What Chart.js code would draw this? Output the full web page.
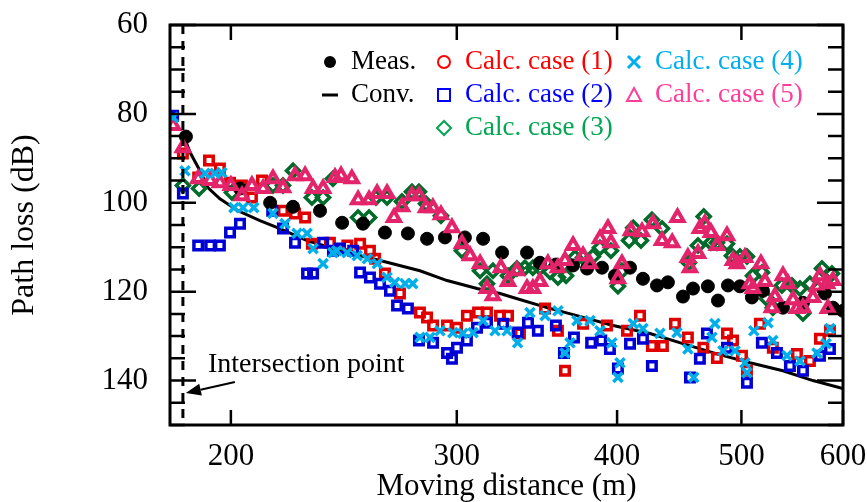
<!DOCTYPE html>
<html>
<head>
<meta charset="utf-8">
<script src="https://cdn.jsdelivr.net/npm/chart.js@4.4.1/dist/chart.umd.min.js"></script>
<style>
  body { margin: 0; background: #fff; }
  canvas { display: block; }
</style>
</head>
<body>
<canvas id="plChart" width="867" height="502"></canvas>
<script>
// ==== Data: [moving distance (m), path loss (dB)] ====
const measured = [
  [184.5, 85.1], [203.3, 96.8], [214.6, 100.0], [223.6, 100.9], [234.7, 101.8], [244.2, 104.5],
  [253.5, 104.7], [263.7, 106.7], [274.8, 106.9], [284.4, 108.1], [293.7, 107.8], [304.4, 107.8],
  [314.5, 108.1], [325.4, 111.2], [340.3, 111.2], [348.3, 113.5], [358.4, 113.9], [369.6, 114.1],
  [379.0, 114.8], [389.3, 114.6], [398.5, 116.4], [409.4, 114.6], [419.0, 117.1], [429.7, 118.6],
  [438.2, 117.9], [450.2, 121.1], [458.4, 119.3], [470.8, 118.8], [479.4, 122.0], [488.1, 118.6],
  [498.7, 118.8], [509.5, 121.3], [519.7, 119.8], [538.7, 123.6], [558.4, 122.5], [580.9, 120.4],
  [589.3, 123.6], [600, 124.3]
];
const conventional = [
  [183.5, 84.4], [185.9, 88.7], [189.2, 92.8], [191.9, 96.6], [196.1, 99.1], [202.6, 101.8],
  [210.7, 104.0], [218.4, 105.8], [229.3, 108.5], [243.3, 110.8], [261.4, 113.0], [280.8, 115.3],
  [294.8, 117.5], [311.1, 119.3], [324.2, 120.4], [331.9, 121.3], [352.7, 123.6], [372.2, 125.4],
  [397.1, 127.6], [424.3, 129.4], [450.2, 131.7], [478.5, 134.0], [507.7, 136.0], [538.7, 137.8],
  [568.5, 140.0], [600, 141.8]
];
const case1 = [
  [183.5, 88.9], [188.6, 94.3], [192.3, 90.5], [196.1, 92.3], [199.7, 95.5], [204.0, 96.1],
  [207.7, 98.8], [211.5, 95.0], [219.6, 101.8], [224.4, 102.4], [228.5, 103.3], [231.3, 109.2],
  [238.9, 109.0], [246.5, 109.6], [252.2, 109.2], [256.7, 110.8], [259.1, 112.6], [263.7, 115.9],
  [270.9, 120.4], [280.8, 124.7], [284.4, 125.8], [287.5, 127.6], [294.8, 127.6], [300.1, 128.1],
  [305.5, 125.4], [311.7, 124.7], [316.7, 124.7], [324.2, 125.4], [328.9, 125.4], [336.0, 129.4],
  [351.5, 123.8], [359.7, 128.8], [364.3, 137.8], [376.3, 127.2], [392.8, 127.6], [407.2, 128.8],
  [416.8, 125.4], [425.8, 132.2], [434.3, 132.2], [443.8, 127.2], [454.2, 130.3], [467.0, 132.6],
  [478.5, 134.9], [487.2, 129.4], [492.5, 131.0], [500.5, 134.4], [505.0, 137.8], [516.9, 127.2],
  [529.0, 132.6], [552.4, 134.0], [565.4, 135.6], [575.7, 130.6], [586.1, 128.8]
];
const case2 = [
  [180.3, 80.4], [183.5, 97.9], [188.6, 109.6], [192.7, 109.6], [196.1, 109.6], [199.7, 106.7],
  [203.3, 104.7], [215.4, 101.8], [219.6, 105.8], [224.4, 109.0], [229.3, 115.9], [231.8, 115.9],
  [236.0, 109.0], [240.2, 110.8], [243.3, 110.3], [249.1, 110.8], [252.2, 115.7], [256.7, 116.8],
  [261.4, 118.2], [266.1, 119.8], [269.5, 123.1], [274.8, 123.8], [280.3, 131.0], [287.5, 131.5],
  [294.8, 133.8], [297.4, 135.1], [300.1, 132.6], [305.5, 131.0], [311.1, 128.1], [316.7, 127.0],
  [326.0, 127.2], [334.6, 129.2], [340.9, 127.0], [347.0, 128.8], [358.4, 127.6], [363.6, 133.8],
  [370.2, 130.3], [381.8, 131.5], [388.8, 131.0], [394.9, 132.9], [400.6, 137.3], [409.4, 131.7],
  [419.0, 130.6], [425.8, 136.7], [455.9, 139.3], [464.1, 135.1], [470.0, 129.4], [487.2, 132.6],
  [505.0, 140.5], [518.7, 131.5], [532.9, 133.8], [545.5, 136.7], [558.4, 137.8], [575.7, 134.4],
  [586.1, 132.9]
];
const case3 = [
  [183.5, 96.1], [188.9, 96.8], [200.4, 97.7], [215.7, 96.1], [219.6, 96.1], [223.6, 92.8],
  [231.3, 98.8], [236.0, 98.8], [240.2, 94.6], [251.3, 103.3], [256.3, 103.3], [259.5, 98.8],
  [264.7, 98.8], [271.9, 99.7], [276.8, 97.5], [280.3, 97.5], [283.9, 100.2], [291.6, 102.9],
  [302.8, 110.8], [312.8, 115.3], [316.7, 118.2], [320.1, 115.3], [328.9, 116.4], [334.2, 114.8],
  [339.0, 114.6], [343.9, 114.6], [348.3, 114.6], [354.6, 115.5], [359.7, 116.8], [365.0, 116.4],
  [370.9, 112.3], [376.3, 112.3], [383.0, 112.1], [387.9, 110.1], [395.6, 110.8], [400.6, 118.8],
  [403.5, 115.3], [408.7, 108.5], [411.8, 105.6], [417.5, 108.5], [425.8, 103.8], [433.6, 105.8],
  [455.0, 113.5], [462.5, 109.6], [467.3, 103.1], [473.4, 109.0], [478.5, 109.0], [487.2, 109.2],
  [491.6, 111.9], [498.7, 112.1], [505.0, 112.1], [510.5, 116.4], [518.8, 115.7], [523.5, 121.6],
  [529.0, 123.6], [537.7, 118.6], [547.5, 118.6], [555.4, 119.3], [558.4, 124.9], [565.4, 118.2],
  [577.8, 114.8], [588.2, 115.9]
];
const case4 = [
  [180.3, 80.8], [184.2, 92.8], [190.9, 93.4], [194.4, 93.4], [196.8, 93.2], [201.1, 101.1],
  [204.4, 101.1], [208.4, 101.1], [215.7, 102.4], [220.4, 104.7], [225.2, 106.9], [229.3, 106.9],
  [231.8, 110.3], [236.0, 113.7], [240.2, 111.2], [241.9, 110.8], [246.4, 111.2], [250.9, 111.9],
  [255.5, 112.6], [260.1, 113.7], [264.7, 116.8], [268.4, 117.9], [273.4, 118.2], [277.2, 118.2],
  [280.8, 130.3], [285.9, 130.3], [291.1, 128.8], [297.9, 129.2], [303.3, 129.4], [308.9, 129.2],
  [314.5, 126.5], [321.3, 128.8], [328.3, 128.8], [334.6, 131.5], [342.1, 124.7], [351.5, 125.4],
  [359.7, 124.3], [364.3, 133.8], [367.6, 131.5], [372.2, 126.5], [381.0, 126.5], [387.9, 128.8],
  [396.3, 131.5], [402.1, 136.0], [400.6, 139.3], [411.8, 127.2], [419.0, 128.3], [432.0, 129.4],
  [445.4, 129.2], [454.2, 132.9], [459.0, 139.3], [474.2, 130.3], [476.8, 127.2], [483.7, 133.3],
  [494.3, 133.3], [503.2, 136.0], [505.0, 138.2], [511.3, 128.8], [524.4, 127.0], [529.0, 131.0],
  [542.6, 134.4], [555.4, 135.6], [572.6, 133.8], [582.0, 131.7], [586.1, 128.3]
];
const case5 = [
  [180.3, 82.6], [183.5, 87.6], [188.6, 94.6], [192.7, 95.0], [196.1, 95.5], [200.0, 96.1],
  [204.0, 98.4], [207.7, 96.1], [211.9, 96.8], [215.7, 94.6], [219.6, 96.6], [224.4, 93.9],
  [228.5, 93.9], [231.8, 96.8], [236.0, 96.8], [241.1, 94.3], [243.7, 93.9], [248.5, 94.6],
  [251.3, 99.3], [256.3, 99.3], [260.0, 97.9], [264.7, 97.9], [268.0, 103.3], [271.9, 100.9],
  [276.8, 98.4], [280.3, 98.4], [283.9, 101.1], [287.4, 101.1], [291.6, 102.7], [297.4, 105.6],
  [302.8, 109.2], [307.2, 111.9], [312.8, 113.7], [316.7, 119.3], [320.1, 120.9], [324.7, 114.6],
  [328.9, 117.7], [334.2, 115.3], [340.3, 119.3], [343.9, 119.3], [348.3, 117.7], [353.3, 113.7],
  [359.7, 114.6], [364.3, 113.0], [369.6, 109.6], [376.3, 111.9], [381.0, 113.7], [387.9, 108.1],
  [393.5, 105.8], [395.6, 109.0], [400.6, 117.1], [403.5, 113.7], [410.1, 106.3], [418.3, 106.5],
  [426.6, 104.7], [433.6, 108.5], [441.6, 109.0], [445.8, 103.3], [454.2, 112.3], [455.9, 114.6],
  [462.5, 111.4], [464.1, 105.8], [468.2, 104.7], [473.4, 106.7], [478.5, 109.6], [487.2, 107.4],
  [492.5, 113.0], [496.0, 113.7], [503.2, 112.3], [507.7, 118.2], [510.5, 119.3], [517.8, 113.7],
  [521.6, 117.7], [528.1, 123.6], [531.0, 121.1], [538.7, 116.4], [543.6, 118.2], [548.5, 121.8],
  [552.4, 123.8], [558.4, 123.6], [568.5, 121.3], [572.6, 118.8], [575.7, 116.4], [583.0, 118.2],
  [584.0, 123.8], [589.3, 117.5]
];
const xTicks = [200, 300, 400, 500, 600];
const yTicks = [60, 80, 100, 120, 140];
const intersectionX = 183.5;

const serif = "'Liberation Serif', 'Times New Roman', serif";
const toXY = arr => arr.map(p => ({ x: p[0], y: p[1] }));

// ==== Extra drawing: box, inward ticks, legend, annotation ====
const decorations = {
  id: "decorations",
  afterDatasetsDraw(chart) {
    const c = chart.ctx;
    const xa = chart.scales.x, ya = chart.scales.y;
    const { left, right, top, bottom } = chart.chartArea;
    c.save();
    c.strokeStyle = "#000";
    c.fillStyle = "#000";
    c.lineWidth = 3;
    c.strokeRect(left, top, right - left, bottom - top);

    c.lineWidth = 2.5;
    c.beginPath();
    for (let v = 60; v <= 150; v += 5) {
      const y = ya.getPixelForValue(v);
      const len = v % 20 === 0 ? 26 : 15;
      c.moveTo(left, y); c.lineTo(left + len, y);
      c.moveTo(right, y); c.lineTo(right - len, y);
    }
    xTicks.forEach(v => {
      const x = xa.getPixelForValue(v);
      c.moveTo(x, bottom); c.lineTo(x, bottom - 15);
      c.moveTo(x, top); c.lineTo(x, top + 15);
    });
    c.stroke();

    // intersection point marker
    const ix = xa.getPixelForValue(intersectionX);
    c.lineWidth = 3;
    c.setLineDash([9, 7]);
    c.beginPath();
    c.moveTo(ix, top); c.lineTo(ix, bottom);
    c.stroke();
    c.setLineDash([]);

    // arrow from the label to the dashed line
    const tipX = ix + 3, tipY = ya.getPixelForValue(142.8);
    const tailX = tipX + 49, tailY = tipY - 11;
    const ang = Math.atan2(tailY - tipY, tailX - tipX);
    const hl = 15, hw = 6;
    const bx = tipX + Math.cos(ang) * hl, by = tipY + Math.sin(ang) * hl;
    c.lineWidth = 2;
    c.beginPath();
    c.moveTo(tailX, tailY); c.lineTo(bx, by);
    c.stroke();
    c.beginPath();
    c.moveTo(tipX, tipY);
    c.lineTo(bx - Math.sin(ang) * hw, by + Math.cos(ang) * hw);
    c.lineTo(bx + Math.sin(ang) * hw, by - Math.cos(ang) * hw);
    c.closePath();
    c.fill();

    c.font = "28px " + serif;
    c.textBaseline = "middle";
    c.fillText("Intersection point", ix + 25, ya.getPixelForValue(136.5));

    // legend
    c.font = "27px " + serif;
    const rows = [62, 95, 128];
    const items = [
      { mk: "dot", color: "#000", text: "Meas.", tc: "#000", x: 330, row: 0 },
      { mk: "dash", color: "#000", text: "Conv.", tc: "#000", x: 330, row: 1 },
      { mk: "circle", color: "#ff0000", text: "Calc. case (1)", tc: "#ff0000", x: 444, row: 0 },
      { mk: "square", color: "#0000ff", text: "Calc. case (2)", tc: "#0000ff", x: 444, row: 1 },
      { mk: "diamond", color: "#00a651", text: "Calc. case (3)", tc: "#00a651", x: 444, row: 2 },
      { mk: "cross", color: "#00aeef", text: "Calc. case (4)", tc: "#00aeef", x: 634, row: 0 },
      { mk: "tri", color: "#ff3d9a", text: "Calc. case (5)", tc: "#ff3d9a", x: 634, row: 1 }
    ];
    items.forEach(it => {
      const y = rows[it.row], x = it.x;
      c.strokeStyle = it.color;
      c.fillStyle = it.color;
      c.lineWidth = 2;
      c.beginPath();
      if (it.mk === "dot") {
        c.arc(x, y, 6, 0, Math.PI * 2); c.fill();
      } else if (it.mk === "dash") {
        c.lineWidth = 3; c.moveTo(x - 8, y); c.lineTo(x + 8, y); c.stroke();
      } else if (it.mk === "circle") {
        c.arc(x, y, 6, 0, Math.PI * 2); c.stroke();
      } else if (it.mk === "square") {
        c.rect(x - 6, y - 6, 12, 12); c.stroke();
      } else if (it.mk === "diamond") {
        c.moveTo(x, y - 7); c.lineTo(x + 7, y); c.lineTo(x, y + 7); c.lineTo(x - 7, y); c.closePath(); c.stroke();
      } else if (it.mk === "cross") {
        c.lineWidth = 3;
        c.moveTo(x - 6, y - 6); c.lineTo(x + 6, y + 6); c.moveTo(x + 6, y - 6); c.lineTo(x - 6, y + 6); c.stroke();
      } else if (it.mk === "tri") {
        c.moveTo(x, y - 7); c.lineTo(x + 7, y + 6); c.lineTo(x - 7, y + 6); c.closePath(); c.stroke();
      }
      c.fillStyle = it.tc;
      c.fillText(it.text, x + 21, y);
    });
    c.restore();
  }
};

// ==== Chart Setup ====
const ctx = document.getElementById("plChart").getContext("2d");

const chart = new Chart(ctx, {
  type: "scatter",
  data: {
    datasets: [
      { label: "Calc. case (4)", data: toXY(case4), order: 1, pointStyle: "crossRot", pointRadius: 6.5,
        borderColor: "#00aeea", borderWidth: 3.5 },
      { label: "Calc. case (5)", data: toXY(case5), order: 2, pointStyle: "triangle", pointRadius: 7,
        borderColor: "#e4246a", backgroundColor: "rgba(0,0,0,0)", borderWidth: 4 },
      { label: "Meas.", data: toXY(measured), order: 3, pointStyle: "circle", pointRadius: 6.5,
        borderColor: "#000", backgroundColor: "#000", borderWidth: 1 },
      { label: "Calc. case (2)", data: toXY(case2), order: 4, pointStyle: "rect", pointRadius: 6,
        borderColor: "#0000d4", backgroundColor: "rgba(0,0,0,0)", borderWidth: 3.5 },
      { label: "Calc. case (3)", data: toXY(case3), order: 5, pointStyle: "rectRot", pointRadius: 6.5,
        borderColor: "#006b2a", backgroundColor: "rgba(0,0,0,0)", borderWidth: 3.5 },
      { label: "Calc. case (1)", data: toXY(case1), order: 6, pointStyle: "rect", pointRadius: 6,
        borderColor: "#e00000", backgroundColor: "rgba(0,0,0,0)", borderWidth: 3.5 },
      { label: "Conv.", data: toXY(conventional), order: 7, showLine: true, pointRadius: 0,
        borderColor: "#000", borderWidth: 3, tension: 0 }
    ]
  },
  options: {
    responsive: false,
    animation: false,
    layout: { padding: { left: 0, right: 24, top: 25, bottom: 0 } },
    plugins: { legend: { display: false }, tooltip: { enabled: false } },
    scales: {
      x: {
        type: "logarithmic",
        min: 179.3,
        max: 600,
        afterBuildTicks: s => { s.ticks = xTicks.map(v => ({ value: v })); },
        afterFit: s => { s.height = 77; s.paddingLeft = 0; s.paddingRight = 0; },
        grid: { display: false, drawTicks: false },
        border: { display: false },
        ticks: {
          color: "#000", padding: 13, autoSkip: false, maxRotation: 0,
          font: { family: serif, size: 31 },
          callback: v => String(v)
        },
        title: {
          display: true, text: "Moving distance (m)", color: "#000",
          font: { family: serif, size: 31, lineHeight: 1 }, padding: { top: 0, bottom: 0 }
        }
      },
      y: {
        reverse: true,
        min: 60,
        max: 150,
        afterBuildTicks: s => { s.ticks = yTicks.map(v => ({ value: v })); },
        afterFit: s => { s.width = 170; s.paddingTop = 0; s.paddingBottom = 0; },
        grid: { display: false, drawTicks: false },
        border: { display: false },
        ticks: {
          color: "#000", padding: 22,
          font: { family: serif, size: 31 }
        },
        title: {
          display: true, text: "Path loss (dB)", color: "#000",
          font: { family: serif, size: 32, lineHeight: 1 }, padding: { top: 9, bottom: 0 }
        }
      }
    }
  },
  plugins: [decorations]
});
</script>
</body>
</html>
